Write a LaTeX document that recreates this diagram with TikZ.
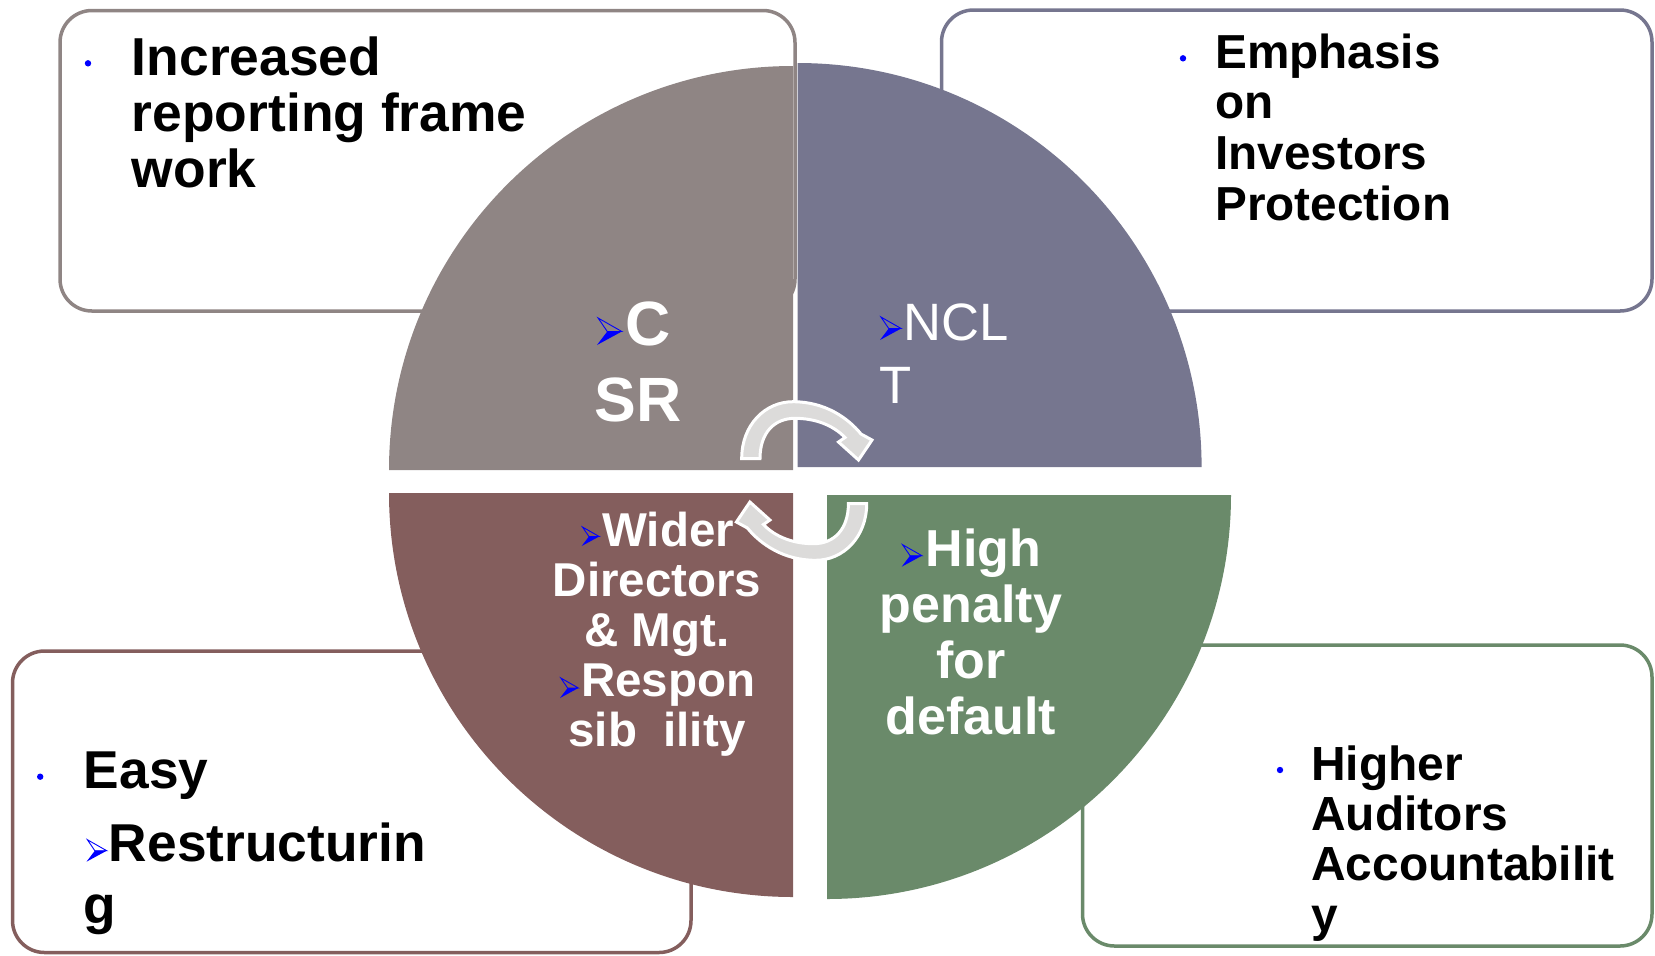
\documentclass[tikz,border=0pt]{standalone}
\usepackage{fontspec}
\setmainfont{Liberation Sans}
\definecolor{quadgray}{RGB}{143,133,132}
\definecolor{quadslate}{RGB}{118,118,143}
\definecolor{quadbrown}{RGB}{132,94,93}
\definecolor{quadgreen}{RGB}{106,138,106}
\definecolor{cyclegray}{RGB}{220,219,218}
\definecolor{bulletblue}{RGB}{0,0,255}
\tikzset{
  panel/.style={line width=1.75pt, rounded corners=16pt, fill=white},
  boxtext/.style={inner sep=0pt, anchor=base west, align=left, text=black},
  quadtext/.style={inner sep=0pt, text=white},
  cyclearrow/.style={fill=cyclegray, draw=white, line width=1.5pt, line join=miter},
  pics/arrbul/.style={code={
    \fill[bulletblue] (0.38,-0.5) -- (0.92,-0.5) -- (0,0) -- cycle;
    \draw[bulletblue, line width=0.45pt, line join=miter] (0.04,-1) -- (0.92,-0.5) -- (0.38,-0.5) -- cycle;
  }}
}
\begin{document}
\begin{tikzpicture}[x=0.5pt,y=-0.5pt]
\useasboundingbox (0,0) rectangle (1655,955);

% outer text panels
\draw[panel, draw=quadgray]  (60,10.5)   rectangle (795,311);
\draw[panel, draw=quadslate] (941.5,10)  rectangle (1652,311);
\draw[panel, draw=quadbrown] (12.5,651)  rectangle (691,952.5);
\draw[panel, draw=quadgreen] (1082.5,645) rectangle (1652,946);

% four quadrants of the central disc
\fill[quadgray]  (793,470) -- (389,470) arc[start angle=180, end angle=270, radius=404] -- cycle;
\fill[quadslate] (797.6,467) -- (797.6,63) arc[start angle=270, end angle=360, radius=404] -- cycle;
\fill[quadgreen] (827,495) -- (1231,495) arc[start angle=0, end angle=90, radius=404] -- cycle;
\fill[quadbrown] (793,493) -- (793,897) arc[start angle=90, end angle=180, radius=404] -- cycle;

% panel texts (multi-line nodes sit on the baseline of their last line)
\fill[bulletblue] (88,63.3) circle[radius=3.2];
\node[boxtext, font=\bfseries\fontsize{26.7}{28}\selectfont] (tltext) at (131.5,187)
  {Increased\\reporting frame\\work};

\fill[bulletblue] (1183,58.3) circle[radius=3.2];
\node[boxtext, font=\bfseries\fontsize{23.85}{25.3}\selectfont] (trtext) at (1215,220.1)
  {Emphasis\\on\\Investors\\Protection};

\fill[bulletblue] (1280,770) circle[radius=3.2];
\node[boxtext, font=\bfseries\fontsize{23.95}{25.2}\selectfont] (brtext) at (1311,931.2)
  {Higher\\Auditors\\Accountabilit\\y};

\fill[bulletblue] (40.2,776.7) circle[radius=3.2];
\node[boxtext, font=\bfseries\fontsize{26.65}{31}\selectfont] (bltexta) at (83.5,788.3) {Easy};
\node[boxtext, font=\bfseries\fontsize{26.65}{31}\selectfont] (bltextb) at (83.5,923.7)
  {\hspace*{12.5pt}Restructurin\\g};
\pic[scale=22] at (86.5,861.7) {arrbul};

% quadrant texts
\node[quadtext, anchor=base west, align=left, font=\bfseries\fontsize{31.3}{38}\selectfont] (csr) at (594,421)
  {\hspace*{15.5pt}C\\SR};
\pic[scale=27] at (597,345) {arrbul};

\node[quadtext, anchor=base west, align=left, font=\fontsize{26.3}{31.5}\selectfont] (nclt) at (879,403)
  {\hspace*{11.9pt}NCL\\T};
\pic[scale=23] at (880,340) {arrbul};

\node[quadtext, anchor=base, align=center, font=\bfseries\fontsize{23.75}{25.1}\selectfont] (wider) at (657,746.8)
  {\hspace*{11.2pt}Wider\\Directors\\\& Mgt.\\\hspace*{11.2pt}Respon\\sib\ \ ility};
\pic[scale=19] at (581.7,546) {arrbul};
\pic[scale=20] at (560,698) {arrbul};

\node[quadtext, anchor=base, align=center, font=\bfseries\fontsize{26}{28}\selectfont] (penalty) at (971,734.7)
  {\hspace*{12.5pt}High\\penalty\\for\\default};
\pic[scale=22] at (901.7,566.7) {arrbul};

% circular arrows in the middle
\def\cyclepath{(741.7,458.5)
  .. controls (741.7,425) and (765,401.7) .. (793,401.7)
  .. controls (825,401.7) and (848,418) .. (861,434)
  -- (872,440) -- (858.5,460) -- (838.5,442) -- (845,437.5)
  .. controls (833,425) and (815,418.3) .. (795,418.3)
  .. controls (774,418.3) and (760,433) .. (760,458.5) -- cycle}
\draw[cyclearrow] \cyclepath;
\begin{scope}[rotate around={180:(804.2,481)}]
  \draw[cyclearrow] \cyclepath;
\end{scope}
\end{tikzpicture}
\end{document}
